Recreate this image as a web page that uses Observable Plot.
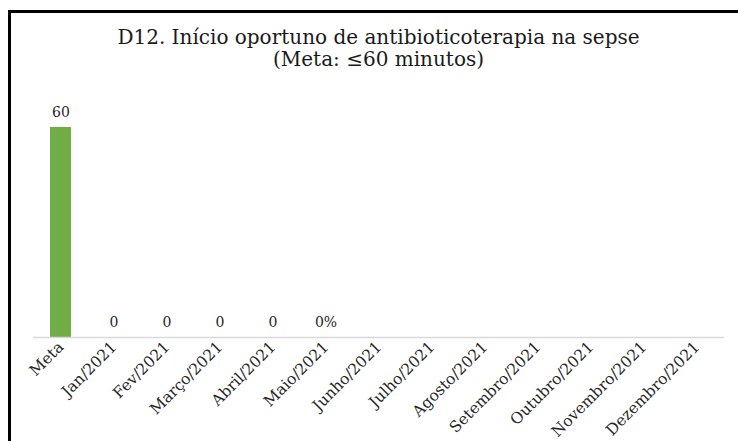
<!DOCTYPE html>
<html>
<head>
<meta charset="utf-8">
<script src="https://cdn.jsdelivr.net/npm/d3@7"></script>
<script src="https://cdn.jsdelivr.net/npm/@observablehq/plot@0.6"></script>
<style>
  html, body { margin: 0; padding: 0; background: #fff; overflow: hidden; }
  #frame { position: absolute; left: 8px; top: 10px; width: 730px; height: 431px; overflow: hidden;
           border-top: 3px solid #000; border-left: 3px solid #000; box-sizing: border-box; }
  #title { position: absolute; left: 0; top: 13px; width: 735px; text-align: center;
           font-family: "DejaVu Serif", serif; font-size: 20px; line-height: 22px; color: #1a1a1a; }
  #chart { position: absolute; left: 0; top: 67px; }
</style>
</head>
<body>
<div id="frame">
  <div id="title">D12. Início oportuno de antibioticoterapia na sepse<br>(Meta: ≤60 minutos)</div>
  <div id="chart"></div>
</div>
<script>
const categories = ["Meta", "Jan/2021", "Fev/2021", "Março/2021", "Abril/2021", "Maio/2021", "Junho/2021",
  "Julho/2021", "Agosto/2021", "Setembro/2021", "Outubro/2021", "Novembro/2021", "Dezembro/2021"];
const values = [60, 0, 0, 0, 0, 0, null, null, null, null, null, null, null];
const valueLabels = ["60", "0", "0", "0", "0", "0%", "", "", "", "", "", "", ""];

const data = categories.map((c, i) => ({category: c, value: values[i], label: valueLabels[i]}));

const chart = Plot.plot({
  width: 727,
  height: 361,
  marginLeft: 22,
  marginRight: 14,
  marginTop: 47,
  marginBottom: 104,
  style: {fontFamily: "DejaVu Serif, serif", fontSize: "15.5px", color: "#262626", background: "transparent"},
  x: {domain: categories, paddingInner: 0.6, paddingOuter: 0.3, label: null, tickSize: 0, tickRotate: -45, tickPadding: 7},
  y: {domain: [0, 60], axis: null},
  marks: [
    Plot.barY(data.filter(d => d.value != null), {x: "category", y: "value", fill: "#70ad47"}),
    Plot.ruleY([0], {stroke: "#d9d9d9", strokeWidth: 1.5}),
    Plot.text(data.filter(d => d.label !== ""), {x: "category", y: "value", text: "label", dy: -15,
      fill: "#262626", fontSize: 14})
  ]
});
document.getElementById("chart").appendChild(chart);
</script>
</body>
</html>
